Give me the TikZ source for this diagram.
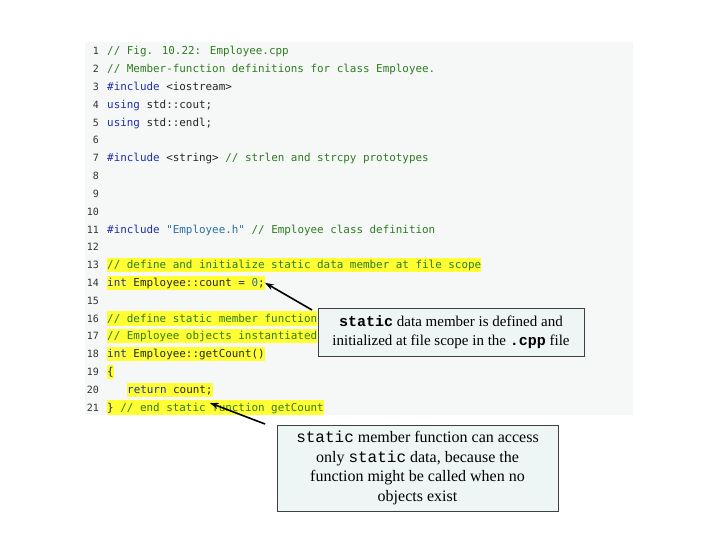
\documentclass[tikz,border=0pt]{standalone}
\usepackage{fontspec}
\setmainfont{Liberation Serif}
\newfontfamily\codef{DejaVu Sans Mono}
\newfontfamily\courb{Liberation Mono}
\usetikzlibrary{arrows.meta}
\definecolor{cmt}{HTML}{2E7D1E}
\definecolor{kw}{HTML}{1F2FA8}
\definecolor{str}{HTML}{2A6FA0}
\definecolor{hl}{HTML}{FFFF33}
\definecolor{panel}{HTML}{F6F8F8}
\definecolor{boxf}{HTML}{EEF5F5}
\tikzset{
 code/.style={anchor=base west,inner sep=0pt,font=\codef\fontsize{10.9}{12}\selectfont,text=black!85},
 hcode/.style={code,fill=hl,inner ysep=2.5pt,text depth=1pt},
 num/.style={anchor=base east,inner sep=0pt,font=\codef\fontsize{10}{12}\selectfont,text=black!80},
 callout/.style={draw=black!75,fill=boxf,align=center,inner sep=2pt},
 pointer/.style={-{Stealth[length=9pt,width=6pt]},line width=1.6pt,black}
}
\begin{document}
\begin{tikzpicture}[x=1pt,y=-1pt]
\useasboundingbox (0,0) rectangle (720,540);
\fill[panel] (85,42) rectangle (633,415);
\foreach \i in {1,...,21}{ \node[num] (n\i) at (99,{55+(\i-1)*17.8}) {\i}; }
\def\Y#1{{55+(#1-1)*17.8}}
\node[code] (l1) at (107,\Y{1}) {\color{cmt}// Fig. 10.22: Employee.cpp};
\node[code] (l2) at (107,\Y{2}) {\color{cmt}// Member-function definitions for class Employee.};
\node[code] (l3) at (107,\Y{3}) {\color{kw}\#include \color{black!85}<iostream>};
\node[code] (l4) at (107,\Y{4}) {\color{kw}using \color{black!85}std::cout;};
\node[code] (l5) at (107,\Y{5}) {\color{kw}using \color{black!85}std::endl;};
\node[code] (l7) at (107,\Y{7}) {\color{kw}\#include \color{black!85}<string> \color{cmt}// strlen and strcpy prototypes};
\node[code] (l11) at (107,\Y{11}) {\color{kw}\#include \color{str}"Employee.h" \color{cmt}// Employee class definition};
\node[hcode] (l13) at (107,\Y{13}) {\color{cmt}// define and initialize static data member at file scope};
\node[hcode] (l14) at (107,\Y{14}) {\color{kw}int \color{black!85}Employee::count = \color{str}0\color{black!85};};
\node[hcode] (l16) at (107,\Y{16}) {\color{cmt}// define static member function};
\node[hcode] (l17) at (107,\Y{17}) {\color{cmt}// Employee objects instantiated};
\node[hcode] (l18) at (107,\Y{18}) {\color{kw}int \color{black!85}Employee::getCount()};
\node[hcode] (l19) at (107,\Y{19}) {\{};
\node[hcode] (l20) at (127,\Y{20}) {\color{kw}return \color{black!85}count;};
\node[hcode] (l21) at (107,\Y{21}) {\} \color{cmt}// end static function getCount};
\node[callout,minimum width=266pt,minimum height=48pt,font=\fontsize{15}{19}\selectfont] (c1) at (451,332)
 {{\courb\bfseries static} data member is defined and\\initialized at file scope in the {\courb\bfseries .cpp} file};
\node[callout,minimum width=281pt,minimum height=86pt,font=\fontsize{16}{19.5}\selectfont] (c2) at (417.5,468)
 {{\courb static} member function can access\\only {\courb static} data, because the\\function might be called when no\\objects exist};
\coordinate (t1) at (312,310);
\coordinate (t2) at (265,424);
\draw[pointer] (t1) -- (l14.east);
\draw[pointer] (t2) -- ([xshift=-3pt,yshift=-6pt]l20.south east);
\end{tikzpicture}
\end{document}
